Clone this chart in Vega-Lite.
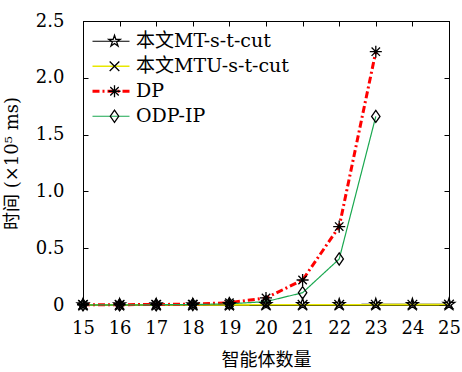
{
  "$schema": "https://vega.github.io/schema/vega-lite/v6.json",
  "autosize": "none",
  "width": 366,
  "height": 284,
  "padding": {"left": 83, "top": 21, "right": 13, "bottom": 67},
  "background": "white",
  "config": {
    "font": "DejaVu Serif, Noto Sans CJK SC",
    "view": {"stroke": "black", "strokeWidth": 1},
    "axis": {
      "grid": false,
      "domainColor": "black",
      "tickColor": "black",
      "labelColor": "black",
      "titleColor": "black",
      "labelFont": "DejaVu Serif",
      "titleFont": "DejaVu Serif, Noto Sans CJK SC",
      "labelFontSize": 18,
      "titleFontSize": 18,
      "titleFontWeight": "normal",
      "labelFlush": false,
      "tickSize": -5
    },
    "legend": {
      "labelFont": "DejaVu Serif, Noto Sans CJK SC",
      "labelFontSize": 19,
      "labelColor": "black",
      "labelLimit": 0,
      "padding": 0
    }
  },
  "data": {
    "values": [
      {"agents": 15, "series": "本文MT-s-t-cut", "time": 0.003},
      {"agents": 16, "series": "本文MT-s-t-cut", "time": 0.003},
      {"agents": 17, "series": "本文MT-s-t-cut", "time": 0.003},
      {"agents": 18, "series": "本文MT-s-t-cut", "time": 0.003},
      {"agents": 19, "series": "本文MT-s-t-cut", "time": 0.003},
      {"agents": 20, "series": "本文MT-s-t-cut", "time": 0.004},
      {"agents": 21, "series": "本文MT-s-t-cut", "time": 0.004},
      {"agents": 22, "series": "本文MT-s-t-cut", "time": 0.004},
      {"agents": 23, "series": "本文MT-s-t-cut", "time": 0.005},
      {"agents": 24, "series": "本文MT-s-t-cut", "time": 0.005},
      {"agents": 25, "series": "本文MT-s-t-cut", "time": 0.006},
      {"agents": 15, "series": "本文MTU-s-t-cut", "time": 0.001},
      {"agents": 16, "series": "本文MTU-s-t-cut", "time": 0.001},
      {"agents": 17, "series": "本文MTU-s-t-cut", "time": 0.001},
      {"agents": 18, "series": "本文MTU-s-t-cut", "time": 0.001},
      {"agents": 19, "series": "本文MTU-s-t-cut", "time": 0.001},
      {"agents": 20, "series": "本文MTU-s-t-cut", "time": 0.002},
      {"agents": 21, "series": "本文MTU-s-t-cut", "time": 0.002},
      {"agents": 22, "series": "本文MTU-s-t-cut", "time": 0.002},
      {"agents": 23, "series": "本文MTU-s-t-cut", "time": 0.003},
      {"agents": 24, "series": "本文MTU-s-t-cut", "time": 0.003},
      {"agents": 25, "series": "本文MTU-s-t-cut", "time": 0.004},
      {"agents": 15, "series": "DP", "time": 0.002},
      {"agents": 16, "series": "DP", "time": 0.003},
      {"agents": 17, "series": "DP", "time": 0.004},
      {"agents": 18, "series": "DP", "time": 0.008},
      {"agents": 19, "series": "DP", "time": 0.02},
      {"agents": 20, "series": "DP", "time": 0.062},
      {"agents": 21, "series": "DP", "time": 0.22},
      {"agents": 22, "series": "DP", "time": 0.69},
      {"agents": 23, "series": "DP", "time": 2.23},
      {"agents": 15, "series": "ODP-IP", "time": 0.001},
      {"agents": 16, "series": "ODP-IP", "time": 0.001},
      {"agents": 17, "series": "ODP-IP", "time": 0.002},
      {"agents": 18, "series": "ODP-IP", "time": 0.004},
      {"agents": 19, "series": "ODP-IP", "time": 0.01},
      {"agents": 20, "series": "ODP-IP", "time": 0.03},
      {"agents": 21, "series": "ODP-IP", "time": 0.108},
      {"agents": 22, "series": "ODP-IP", "time": 0.405},
      {"agents": 23, "series": "ODP-IP", "time": 1.66}
    ]
  },
  "layer": [
    {
      "mark": {"type": "line", "strokeCap": "butt"},
      "encoding": {
        "x": {
          "field": "agents", "type": "quantitative",
          "scale": {"domain": [15, 25], "nice": false, "zero": false},
          "axis": {"orient": "bottom", "values": [15,16,17,18,19,20,21,22,23,24,25], "title": "智能体数量", "labelPadding": 19, "titlePadding": 14}
        },
        "y": {
          "field": "time", "type": "quantitative",
          "scale": {"domain": [0, 2.5], "nice": false},
          "axis": {"orient": "left", "values": [0, 0.5, 1, 1.5, 2, 2.5], "labelExpr": "datum.value == 0 ? '0' : format(datum.value, '.1f')", "title": "时间 (×10⁵ ms)", "labelPadding": 24, "titlePadding": 14}
        },
        "color": {
          "field": "series", "type": "nominal",
          "scale": {"domain": ["本文MT-s-t-cut", "本文MTU-s-t-cut", "DP", "ODP-IP"], "range": ["#000000", "#e8e800", "#ff0000", "#1aa850"]},
          "legend": {"title": null, "orient": "none", "legendX": 8, "legendY": 11, "symbolType": "stroke", "symbolSize": 1369, "labelOffset": 5, "rowPadding": 5, "clipHeight": 18.5}
        },
        "strokeDash": {
          "field": "series", "type": "nominal",
          "scale": {"domain": ["本文MT-s-t-cut", "本文MTU-s-t-cut", "DP", "ODP-IP"], "range": [[1, 0], [1, 0], [7, 3, 2, 3], [1, 0]]},
          "legend": {"title": null, "orient": "none", "legendX": 8, "legendY": 11, "symbolType": "stroke", "symbolSize": 1369, "labelOffset": 5, "rowPadding": 5, "clipHeight": 18.5}
        },
        "strokeWidth": {
          "field": "series", "type": "ordinal",
          "scale": {"type": "ordinal", "domain": ["本文MT-s-t-cut", "本文MTU-s-t-cut", "DP", "ODP-IP"], "range": [1.2, 1.6, 3, 1.2]},
          "legend": {"title": null, "orient": "none", "legendX": 8, "legendY": 11, "symbolType": "stroke", "symbolSize": 1369, "labelOffset": 5, "rowPadding": 5, "clipHeight": 18.5}
        }
      }
    },
    {
      "mark": {"type": "point", "filled": false, "color": "black", "strokeWidth": 1.3, "size": 145, "opacity": 1},
      "encoding": {
        "x": {"field": "agents", "type": "quantitative", "axis": {"orient": "top", "values": [15,16,17,18,19,20,21,22,23,24,25], "labels": false, "title": null}},
        "y": {"field": "time", "type": "quantitative", "axis": {"orient": "right", "values": [0, 0.5, 1, 1.5, 2, 2.5], "labels": false, "title": null}},
        "shape": {
          "field": "series", "type": "nominal",
          "sort": ["本文MT-s-t-cut", "本文MTU-s-t-cut", "DP", "ODP-IP"],
          "scale": {"range": [
            "M0,-1L0.225,-0.309L0.951,-0.309L0.363,0.118L0.588,0.809L0,0.382L-0.588,0.809L-0.363,0.118L-0.951,-0.309L-0.225,-0.309Z",
            "M-0.8,-0.8L0.8,0.8M-0.8,0.8L0.8,-0.8",
            "M-1,0L1,0M0,-1L0,1M-0.7,-0.7L0.7,0.7M-0.7,0.7L0.7,-0.7",
            "M0,-1L0.7,0L0,1L-0.7,0Z"
          ]},
          "legend": {"title": null, "orient": "none", "legendX": 22, "legendY": 11, "symbolSize": 145, "rowPadding": 5, "clipHeight": 18.5, "labelExpr": "''", "symbolStrokeColor": "black", "symbolFillColor": "transparent", "symbolStrokeWidth": 1.3}
        }
      }
    }
  ]
}
